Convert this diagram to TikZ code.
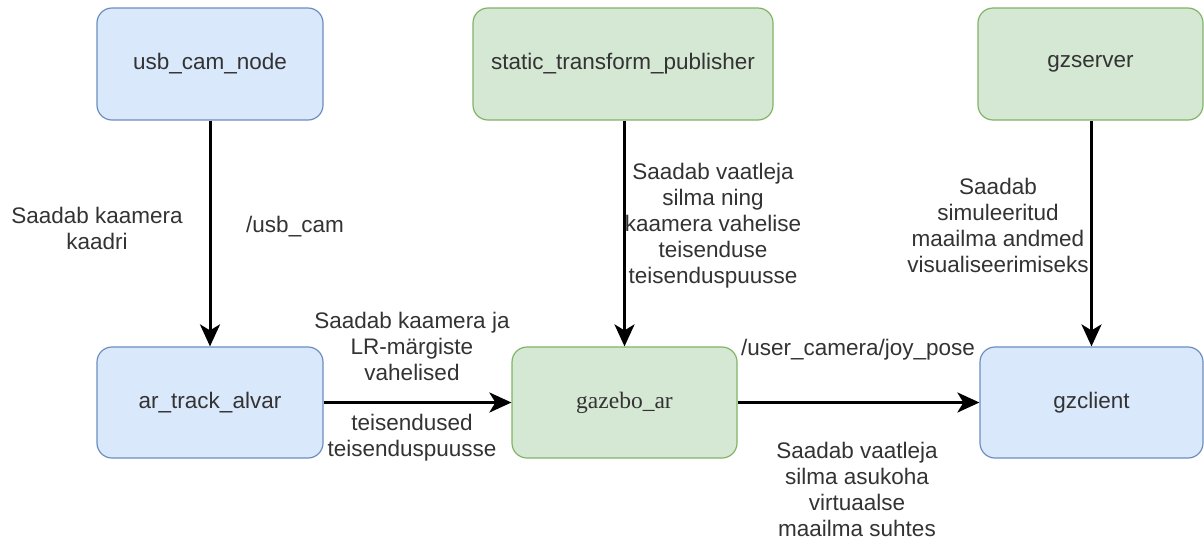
\documentclass[tikz,border=0pt]{standalone}
\usepackage{fontspec}
\setmainfont{Liberation Sans}
\newfontfamily\serifbox{Liberation Serif}
\usetikzlibrary{arrows.meta}
\definecolor{bluefill}{HTML}{DAE8FC}
\definecolor{bluedraw}{HTML}{6C8EBF}
\definecolor{greenfill}{HTML}{D5E8D4}
\definecolor{greendraw}{HTML}{82B366}
\definecolor{txt}{HTML}{333333}
\tikzset{
  box/.style={rectangle, rounded corners=15pt, line width=1.2pt, text=txt,
    font=\fontsize{22.5}{26}\selectfont, inner sep=0pt},
  bluebox/.style={box, fill=bluefill, draw=bluedraw},
  greenbox/.style={box, fill=greenfill, draw=greendraw},
  lbl/.style={align=center, text=txt, font=\fontsize{22.5}{26}\selectfont, inner sep=0pt},
  conn/.style={line width=3pt, draw=black, -{Stealth[length=22pt,width=20pt,inset=6pt]}}
}
\begin{document}
\begin{tikzpicture}[x=1pt,y=-1pt]
\useasboundingbox[fill=white] (0,0) rectangle (1204,539);
\node[bluebox, minimum width=226pt, minimum height=112pt] (usb) at (210,64) {usb\_cam\_node};
\node[greenbox, minimum width=300pt, minimum height=112pt] (stp) at (623,64) {static\_transform\_publisher};
\node[greenbox, minimum width=225pt, minimum height=112pt] (gzs) at (1090.5,64) {gzserver};
\node[bluebox, minimum width=226pt, minimum height=111pt] (ar) at (210,402.5) {ar\_track\_alvar};
\node[greenbox, minimum width=225pt, minimum height=111pt, font=\serifbox\fontsize{23.5}{27}\selectfont] (gaz) at (624.5,402.5) {gazebo\_ar};
\node[bluebox, minimum width=223pt, minimum height=111pt] (gzc) at (1091.5,402.5) {gzclient};

\draw[conn] (usb.south) -- (ar.north);
\draw[conn] (gaz.north |- stp.south) -- (gaz.north);
\draw[conn] (gzc.north |- gzs.south) -- (gzc.north);
\draw[conn] (ar.east) -- (gaz.west);
\draw[conn] (gaz.east) -- (gzc.west);

\node[lbl] (l1) at (97,228) {Saadab kaamera\\kaadri};
\node[lbl] (l2) at (295,227) {/usb\_cam};
\node[lbl] (l3) at (713,226) {Saadab vaatleja\\silma ning\\kaamera vahelise\\teisenduse\\teisenduspuusse};
\node[lbl] (l4) at (998,225) {Saadab\\simuleeritud\\maailma andmed\\visualiseerimiseks};
\node[lbl] (l5) at (412,346) {Saadab kaamera ja\\LR-märgiste\\vahelised};
\node[lbl] (l6) at (412,438) {teisendused\\teisenduspuusse};
\node[lbl] (l7) at (858,350) {/user\_camera/joy\_pose};
\node[lbl] (l8) at (857,489) {Saadab vaatleja\\silma asukoha\\virtuaalse\\maailma suhtes};
\end{tikzpicture}
\end{document}
